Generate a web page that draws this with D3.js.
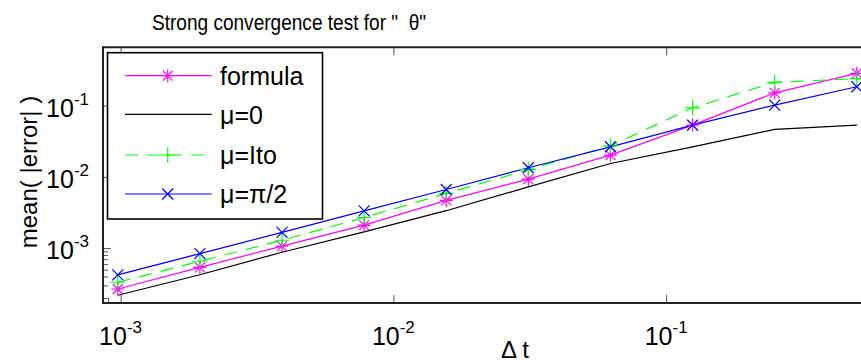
<!DOCTYPE html>
<html>
<head>
<meta charset="utf-8">
<script src="https://cdn.jsdelivr.net/npm/d3@7"></script>
<style>
  html, body { margin: 0; padding: 0; background: #fff; }
  svg { display: block; font-family: "Liberation Sans", Arial, Helvetica, sans-serif; }
</style>
</head>
<body>
<svg id="chart" width="861" height="363"></svg>
<script>
// ---- data ----
const dt = [0.0009765625, 0.001953125, 0.00390625, 0.0078125, 0.015625, 0.03125, 0.0625, 0.125, 0.25, 0.5];
const formula = [2.67e-4, 5.36e-4, 1.067e-3, 2.10e-3, 4.67e-3, 9.29e-3, 0.0202, 0.0532, 0.151, 0.283];
const mu0     = [2.18e-4, 4.23e-4, 8.75e-4, 1.69e-3, 3.35e-3, 7.24e-3, 0.0154, 0.0264, 0.0464, 0.0532];
const muIto   = [3.32e-4, 6.55e-4, 1.29e-3, 2.69e-3, 5.85e-3, 0.0126, 0.0272, 0.0931, 0.212, 0.239];
const muPi2   = [4.21e-4, 8.39e-4, 1.66e-3, 3.33e-3, 6.65e-3, 0.0134, 0.0264, 0.0532, 0.1016, 0.1836];
const seriesNames = ["formula", "\u03bc=0", "\u03bc=Ito", "\u03bc=\u03c0/2"];
const xTickValues = [1e-3, 1e-2, 1e-1];
const xTickExps = ["-3", "-2", "-1"];
const yTickValues = [1e-3, 1e-2, 1e-1];
const yTickExps = ["-3", "-2", "-1"];
const xMinorTicks = [9e-4];
const yMinorTicks = [9e-4, 8e-4, 7e-4, 6e-4, 5e-4, 4e-4, 3e-4, 2e-4];
const titleText = "Strong convergence test for \"  \u03b8\"";
const xLabel = "\u0394 t";
const yLabel = "mean( |error| )";

// ---- layout ----
const L = 103, R = 900, T = 47.3, B = 303;
const svg = d3.select("#chart");
const x = d3.scaleLog().domain([8.62e-4, 0.72]).range([L, R]);
const y = d3.scaleLog().domain([1.699e-4, 0.6568]).range([B, T]);

const series = [
  {name: seriesNames[0], vals: formula, color: "#ff00ff", dash: null, marker: "star"},
  {name: seriesNames[1], vals: mu0, color: "#000000", dash: null, marker: null},
  {name: seriesNames[2], vals: muIto, color: "#00ff00", dash: "13,9", marker: "plus"},
  {name: seriesNames[3], vals: muPi2, color: "#0000ff", dash: null, marker: "cross"}
];

function markerPath(type) {
  const p = d3.path();
  if (type === "plus" || type === "star") {
    const s = type === "plus" ? 7.5 : 6.5;
    p.moveTo(-s, 0); p.lineTo(s, 0); p.moveTo(0, -s); p.lineTo(0, s);
  }
  if (type === "cross" || type === "star") {
    const s = type === "cross" ? 5.5 : 5;
    p.moveTo(-s, -s); p.lineTo(s, s); p.moveTo(-s, s); p.lineTo(s, -s);
  }
  return p.toString();
}

// clip for plot
svg.append("clipPath").attr("id", "clip").append("rect")
  .attr("x", L).attr("y", T).attr("width", R - L).attr("height", B - T);

// ---- axes (ticks inward) ----
const axisColor = "#222";
const xb = svg.append("g").attr("transform", `translate(0,${B})`)
  .call(d3.axisBottom(x).tickValues(xTickValues).tickSize(-8).tickFormat(() => ""));
const xt = svg.append("g").attr("transform", `translate(0,${T})`)
  .call(d3.axisTop(x).tickValues(xTickValues).tickSize(-8).tickFormat(() => ""));
const xbm = svg.append("g").attr("transform", `translate(0,${B})`)
  .call(d3.axisBottom(x).tickValues(xMinorTicks).tickSize(-5).tickFormat(() => ""));
const yl = svg.append("g").attr("transform", `translate(${L},0)`)
  .call(d3.axisLeft(y).tickValues(yTickValues).tickSize(-8).tickFormat(() => ""));
const ylm = svg.append("g").attr("transform", `translate(${L},0)`)
  .call(d3.axisLeft(y).tickValues(yMinorTicks).tickSize(-5).tickFormat(() => ""));
[xb, xt, xbm, yl, ylm].forEach(g => {
  g.select(".domain").remove();
  g.selectAll(".tick line").attr("stroke", "#555").attr("stroke-width", 1);
});

// frame
svg.append("line").attr("x1", L).attr("x2", R).attr("y1", B).attr("y2", B)
  .attr("stroke", axisColor).attr("stroke-width", 2);
svg.append("line").attr("x1", L).attr("x2", R).attr("y1", T).attr("y2", T)
  .attr("stroke", axisColor).attr("stroke-width", 2);
svg.append("line").attr("x1", L).attr("x2", L).attr("y1", T - 1).attr("y2", B + 1)
  .attr("stroke", axisColor).attr("stroke-width", 2);

// tick labels with superscripts
xTickValues.forEach((v, i) => {
  const t = svg.append("text").attr("x", x(v)).attr("y", 345)
    .attr("text-anchor", "middle").attr("font-size", 25).attr("fill", "#000");
  t.append("tspan").text("10");
  t.append("tspan").attr("font-size", 17).attr("dy", -12).text(xTickExps[i]);
});
yTickValues.forEach((v, i) => {
  const t = svg.append("text").attr("x", 89).attr("y", y(v) + 11)
    .attr("text-anchor", "end").attr("font-size", 25).attr("fill", "#000");
  t.append("tspan").text("10");
  t.append("tspan").attr("font-size", 17).attr("dy", -12).text(yTickExps[i]);
});

// ---- series ----
const plot = svg.append("g").attr("clip-path", "url(#clip)");
const line = d3.line().x(d => x(d[0])).y(d => y(d[1]));
series.forEach(s => {
  const pts = dt.map((d, i) => [d, s.vals[i]]);
  plot.append("path").datum(pts).attr("d", line)
    .attr("fill", "none").attr("stroke", s.color).attr("stroke-width", 1.2)
    .attr("stroke-dasharray", s.dash);
});
series.forEach(s => {
  if (!s.marker) return;
  const pts = dt.map((d, i) => [d, s.vals[i]]);
  svg.append("g").selectAll("path").data(pts).join("path")
    .attr("transform", d => `translate(${x(d[0])},${y(d[1])})`)
    .attr("d", markerPath(s.marker))
    .attr("fill", "none").attr("stroke", s.color).attr("stroke-width", 1.2);
});

// ---- labels ----
svg.append("text").attr("x", 152).attr("y", 30).attr("font-size", 22)
  .attr("textLength", 274).attr("lengthAdjust", "spacingAndGlyphs")
  .attr("fill", "#000").style("white-space", "pre").text(titleText);
svg.append("text").attr("x", 515).attr("y", 358).attr("text-anchor", "middle")
  .attr("font-size", 24).attr("fill", "#000").style("white-space", "pre").text(xLabel);
svg.append("text").attr("transform", "translate(37,172) rotate(-90)")
  .attr("text-anchor", "middle").attr("font-size", 24).attr("fill", "#000").text(yLabel);

// ---- legend ----
const lg = svg.append("g");
lg.append("rect").attr("x", 107.5).attr("y", 52.7).attr("width", 215).attr("height", 166.3)
  .attr("fill", "#fff").attr("stroke", "#000").attr("stroke-width", 1.6);
const rowY = [75.7, 114.3, 155, 194];
series.forEach((s, i) => {
  const yy = rowY[i];
  lg.append("line").attr("x1", 125).attr("x2", 211.7).attr("y1", yy).attr("y2", yy)
    .attr("stroke", s.color).attr("stroke-width", 1.2).attr("stroke-dasharray", s.dash);
  if (s.marker) lg.append("path").attr("transform", `translate(167.7,${yy})`)
    .attr("d", markerPath(s.marker)).attr("fill", "none").attr("stroke", s.color).attr("stroke-width", 1.2);
  lg.append("text").attr("x", 220).attr("y", yy + 9.3).attr("font-size", 25)
    .attr("fill", "#000").text(s.name);
});
</script>
</body>
</html>
